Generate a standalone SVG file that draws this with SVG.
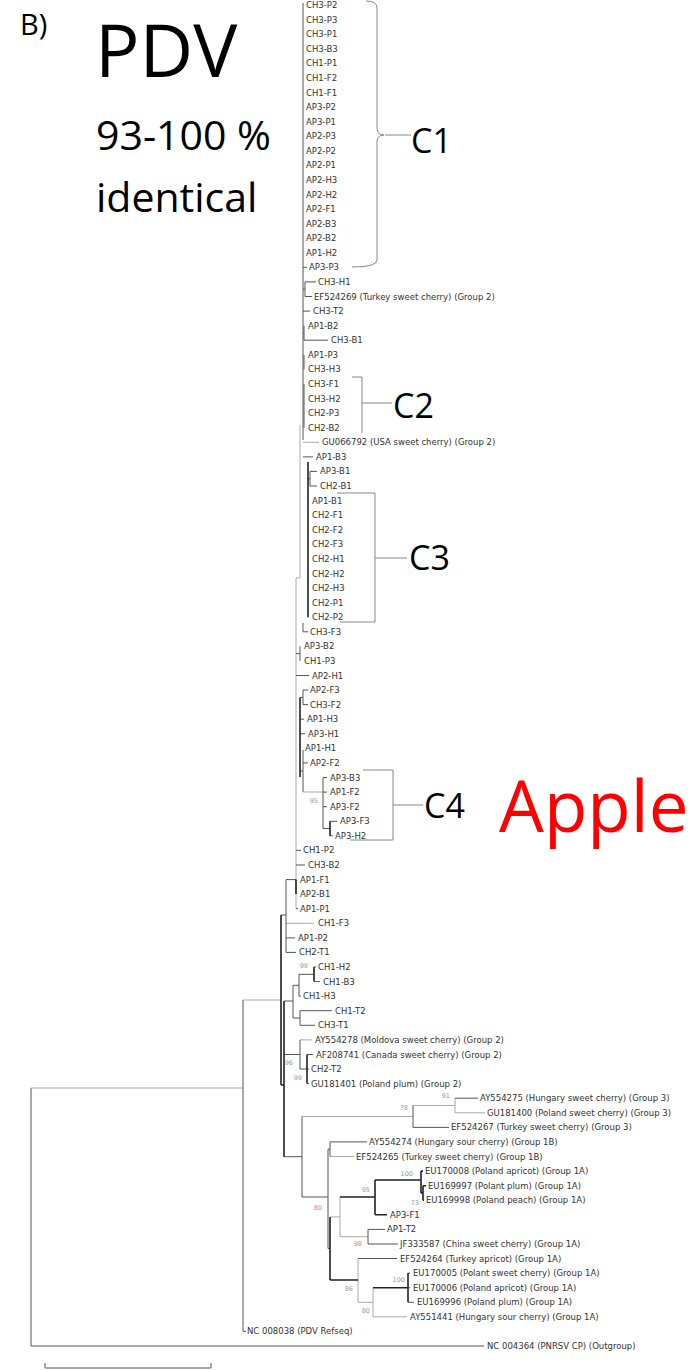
<svg xmlns="http://www.w3.org/2000/svg" width="696" height="1371" viewBox="0 0 696 1371">
<style>
.lf{font-family:"DejaVu Sans",sans-serif;font-size:8.5px;fill:#333}
.bs{font-family:"DejaVu Sans",sans-serif;font-size:6.5px;fill:#999;text-anchor:end}
.big{font-family:"Open Sans",sans-serif;fill:#000}
.t{stroke:#555;stroke-width:1;fill:none}
.tk{stroke:#222;stroke-width:1.6;fill:none}
.lt{stroke:#aaa;stroke-width:1;fill:none}
.br{stroke:#888;stroke-width:1;fill:none}
</style>
<rect width="696" height="1371" fill="#fff"/>
<g id="titles">
<text class="big" x="20" y="35" font-size="29">B)</text>
<text class="big" x="95" y="77" font-size="74">PDV</text>
<text class="big" x="96" y="150" font-size="41">93-100 %</text>
<text class="big" x="96" y="212" font-size="41">identical</text>
<text class="big" x="499" y="832" font-size="71" fill="#ff0000" style="fill:#ff0000">Apple</text>
</g>
<g id="clusters">
<g id="C1"><path class="br" d="M366 1 Q377 1 377 8 V128 Q377 135 384 135 Q377 135 377 142 V260 Q377 267 352 267 M385 135 H411"/><text class="big" x="411" y="153" font-size="34">C1</text></g>
<g id="C2"><path class="br" d="M352 377 H362 V433 M362 403 H392"/><text class="big" x="393" y="418" font-size="34">C2</text></g>
<g id="C3"><path class="br" d="M337 493 H375 V622 H340 M375 558 H407"/><text class="big" x="409" y="570" font-size="34">C3</text></g>
<g id="C4"><path class="br" d="M363 770 H393 V840 H350 M393 805 H423"/><text class="big" x="424" y="818" font-size="34">C4</text></g>
</g>
<g id="connectors">
<path class="lt" d="M303 442.3 H319 M300 425 V578 M296 578 H300 M296 578 V908.7 M303 792 H323 M286 923.3 H314 M300 1039.9 H312 M302 1116.5 H413 M413 1105.5 H455 M455 1098.2 V1112.8 M455 1112.8 H485 M330 1156.5 H354 M340 1197 V1236.7 M340 1236.7 H368 M330 1216.9 H340 M358 1258.5 V1302.3 M358 1302.3 H373 M373 1287.7 V1316.8 M373 1316.8 H407 M31 1088 H243 M243 1000 H281"/>
<path class="t" d="M303 3 V440 M303 267.4 H307 M303 289.2 H305 M305 281.9 V296.5 M305 281.9 H316 M305 296.5 H312 M303 311.1 H310 M303 333 H304 M304 325.7 V340.2 H328 M304 354.8 V369.4 M304 384 V427.7 M303 456.9 H313 M310 471.4 V486 M310 471.4 H317 M310 486 H317 M308 478.7 H310 M303 623 V631.8 H308 M300 646.3 V660.9 M296 653.6 H300 M296 675.5 H309 M303 690.1 V704.6 M303 690.1 H308 M303 704.6 H308 M300 697.4 H303 M300 719.2 H304 M300 733.8 H305 M300 771 H303 M303 750 V792 M303 762.9 H308 M323 777.5 V828.5 M323 777.5 H327 M323 792.1 H327 M323 806.7 H327 M323 828.5 H330 M330 821.3 H337 M330 835.8 H333 M296 850.4 H301 M296 865 H305 M296 908.7 H298 M286 879.6 V952.4 M281 915 H286 M286 937.9 H295 M286 952.4 H296 M286 879.6 H296 M314 967 H316 M314 981.6 H320 M299 974.3 H314 M299 974.3 V996.2 H301 M293 985.3 V1018 M293 985.3 H299 M293 1018 H300 M300 1010.7 V1025.3 M300 1010.7 H332 M300 1025.3 H315 M284 1001 H293 M300 1039.9 V1069 M284 1054.5 H300 M300 1069 H307 M307 1054.5 H313 M307 1069 H309 M307 1083.6 H309 M284 1156.7 H302 M302 1116.5 V1197 M413 1105.5 V1127.4 M413 1127.4 H449 M455 1098.2 H478 M302 1197 H328 M328 1149.2 V1248.5 M328 1149.2 H330 M330 1141.9 V1156.5 M330 1141.9 H367 M328 1248.5 H330 M368 1229.4 V1244 M368 1229.4 H385 M368 1244 H398 M358 1258.5 H397 M408 1273.1 H410 M408 1287.7 H410 M408 1302.3 H414 M243 1000 V1331.4 H246 M31 1088 V1346 H484 M45 1363 V1368 H211 V1363"/>
<path class="tk" d="M308 462 V617.2 M300 697.4 V777 M330 821.3 V835.8 M296 879.6 V894.1 M281 915 V1085 M281 1085 H284 M284 1001 V1156.7 M314 967 V981.6 M307 1054.5 V1083.6 M330 1216.9 V1280 M330 1280 H358 M340 1197 H375 M375 1180 V1214.8 M375 1214.8 H387 M375 1180 H421 M421 1171.1 V1192.9 M421 1171.1 H423 M421 1192.9 H423 M423 1185.7 V1200.2 M423 1185.7 H426 M423 1200.2 H424 M373 1287.7 H408 M408 1273.1 V1302.3"/>
</g>
<g id="bootstrap">
<text class="bs" x="318" y="803">95</text>
<text class="bs" x="308" y="968">99</text>
<text class="bs" x="293" y="1065">96</text>
<text class="bs" x="302" y="1080">99</text>
<text class="bs" x="450" y="1098">91</text>
<text class="bs" x="408" y="1110">78</text>
<text class="bs" x="413" y="1176">100</text>
<text class="bs" x="370" y="1192">95</text>
<text class="bs" x="419" y="1205">73</text>
<text class="bs" x="322" y="1210">80</text>
<text class="bs" x="362" y="1246">98</text>
<text class="bs" x="405" y="1282">100</text>
<text class="bs" x="353" y="1291">86</text>
<text class="bs" x="370" y="1313">80</text>
</g>
<g id="leaves">
<g id="n0"><text class="lf" x="306" y="8">CH3-P2</text></g>
<g id="n1"><text class="lf" x="306" y="22.6">CH3-P3</text></g>
<g id="n2"><text class="lf" x="306" y="37.2">CH3-P1</text></g>
<g id="n3"><text class="lf" x="306" y="51.7">CH3-B3</text></g>
<g id="n4"><text class="lf" x="306" y="66.3">CH1-P1</text></g>
<g id="n5"><text class="lf" x="306" y="80.9">CH1-F2</text></g>
<g id="n6"><text class="lf" x="306" y="95.5">CH1-F1</text></g>
<g id="n7"><text class="lf" x="306" y="110">AP3-P2</text></g>
<g id="n8"><text class="lf" x="306" y="124.6">AP3-P1</text></g>
<g id="n9"><text class="lf" x="306" y="139.2">AP2-P3</text></g>
<g id="n10"><text class="lf" x="306" y="153.8">AP2-P2</text></g>
<g id="n11"><text class="lf" x="306" y="168.3">AP2-P1</text></g>
<g id="n12"><text class="lf" x="306" y="182.9">AP2-H3</text></g>
<g id="n13"><text class="lf" x="306" y="197.5">AP2-H2</text></g>
<g id="n14"><text class="lf" x="306" y="212.1">AP2-F1</text></g>
<g id="n15"><text class="lf" x="306" y="226.6">AP2-B3</text></g>
<g id="n16"><text class="lf" x="306" y="241.2">AP2-B2</text></g>
<g id="n17"><text class="lf" x="306" y="255.8">AP1-H2</text></g>
<g id="n18"><text class="lf" x="309" y="270.4">AP3-P3</text></g>
<g id="n19"><text class="lf" x="318" y="284.9">CH3-H1</text></g>
<g id="n20"><text class="lf" x="314" y="299.5">EF524269 (Turkey sweet cherry) (Group 2)</text></g>
<g id="n21"><text class="lf" x="313" y="314.1">CH3-T2</text></g>
<g id="n22"><text class="lf" x="308" y="328.7">AP1-B2</text></g>
<g id="n23"><text class="lf" x="331" y="343.2">CH3-B1</text></g>
<g id="n24"><text class="lf" x="308" y="357.8">AP1-P3</text></g>
<g id="n25"><text class="lf" x="308" y="372.4">CH3-H3</text></g>
<g id="n26"><text class="lf" x="308" y="387">CH3-F1</text></g>
<g id="n27"><text class="lf" x="308" y="401.6">CH3-H2</text></g>
<g id="n28"><text class="lf" x="308" y="416.1">CH2-P3</text></g>
<g id="n29"><text class="lf" x="308" y="430.7">CH2-B2</text></g>
<g id="n30"><text class="lf" x="322" y="445.3">GU066792 (USA sweet cherry) (Group 2)</text></g>
<g id="n31"><text class="lf" x="316" y="459.9">AP1-B3</text></g>
<g id="n32"><text class="lf" x="320" y="474.4">AP3-B1</text></g>
<g id="n33"><text class="lf" x="320" y="489">CH2-B1</text></g>
<g id="n34"><text class="lf" x="312" y="503.6">AP1-B1</text></g>
<g id="n35"><text class="lf" x="312" y="518.2">CH2-F1</text></g>
<g id="n36"><text class="lf" x="312" y="532.7">CH2-F2</text></g>
<g id="n37"><text class="lf" x="312" y="547.3">CH2-F3</text></g>
<g id="n38"><text class="lf" x="312" y="561.9">CH2-H1</text></g>
<g id="n39"><text class="lf" x="312" y="576.5">CH2-H2</text></g>
<g id="n40"><text class="lf" x="312" y="591">CH2-H3</text></g>
<g id="n41"><text class="lf" x="312" y="605.6">CH2-P1</text></g>
<g id="n42"><text class="lf" x="312" y="620.2">CH2-P2</text></g>
<g id="n43"><text class="lf" x="310" y="634.8">CH3-F3</text></g>
<g id="n44"><text class="lf" x="304" y="649.3">AP3-B2</text></g>
<g id="n45"><text class="lf" x="304" y="663.9">CH1-P3</text></g>
<g id="n46"><text class="lf" x="312" y="678.5">AP2-H1</text></g>
<g id="n47"><text class="lf" x="310" y="693.1">AP2-F3</text></g>
<g id="n48"><text class="lf" x="310" y="707.6">CH3-F2</text></g>
<g id="n49"><text class="lf" x="307" y="722.2">AP1-H3</text></g>
<g id="n50"><text class="lf" x="308" y="736.8">AP3-H1</text></g>
<g id="n51"><text class="lf" x="305" y="751.4">AP1-H1</text></g>
<g id="n52"><text class="lf" x="310" y="765.9">AP2-F2</text></g>
<g id="n53"><text class="lf" x="330" y="780.5">AP3-B3</text></g>
<g id="n54"><text class="lf" x="330" y="795.1">AP1-F2</text></g>
<g id="n55"><text class="lf" x="330" y="809.7">AP3-F2</text></g>
<g id="n56"><text class="lf" x="340" y="824.3">AP3-F3</text></g>
<g id="n57"><text class="lf" x="335" y="838.8">AP3-H2</text></g>
<g id="n58"><text class="lf" x="303" y="853.4">CH1-P2</text></g>
<g id="n59"><text class="lf" x="308" y="868">CH3-B2</text></g>
<g id="n60"><text class="lf" x="300" y="882.6">AP1-F1</text></g>
<g id="n61"><text class="lf" x="300" y="897.1">AP2-B1</text></g>
<g id="n62"><text class="lf" x="300" y="911.7">AP1-P1</text></g>
<g id="n63"><text class="lf" x="318" y="926.3">CH1-F3</text></g>
<g id="n64"><text class="lf" x="298" y="940.9">AP1-P2</text></g>
<g id="n65"><text class="lf" x="299" y="955.4">CH2-T1</text></g>
<g id="n66"><text class="lf" x="318" y="970">CH1-H2</text></g>
<g id="n67"><text class="lf" x="323" y="984.6">CH1-B3</text></g>
<g id="n68"><text class="lf" x="303" y="999.2">CH1-H3</text></g>
<g id="n69"><text class="lf" x="335" y="1013.7">CH1-T2</text></g>
<g id="n70"><text class="lf" x="318" y="1028.3">CH3-T1</text></g>
<g id="n71"><text class="lf" x="315" y="1042.9">AY554278 (Moldova sweet cherry) (Group 2)</text></g>
<g id="n72"><text class="lf" x="316" y="1057.5">AF208741 (Canada sweet cherry) (Group 2)</text></g>
<g id="n73"><text class="lf" x="311" y="1072">CH2-T2</text></g>
<g id="n74"><text class="lf" x="311" y="1086.6">GU181401 (Poland plum) (Group 2)</text></g>
<g id="n75"><text class="lf" x="480" y="1101.2">AY554275 (Hungary sweet cherry) (Group 3)</text></g>
<g id="n76"><text class="lf" x="487" y="1115.8">GU181400 (Poland sweet cherry) (Group 3)</text></g>
<g id="n77"><text class="lf" x="451" y="1130.4">EF524267 (Turkey sweet cherry) (Group 3)</text></g>
<g id="n78"><text class="lf" x="369" y="1144.9">AY554274 (Hungary sour cherry) (Group 1B)</text></g>
<g id="n79"><text class="lf" x="356" y="1159.5">EF524265 (Turkey sweet cherry) (Group 1B)</text></g>
<g id="n80"><text class="lf" x="425" y="1174.1">EU170008 (Poland apricot) (Group 1A)</text></g>
<g id="n81"><text class="lf" x="428" y="1188.7">EU169997 (Polant plum) (Group 1A)</text></g>
<g id="n82"><text class="lf" x="426" y="1203.2">EU169998 (Poland peach) (Group 1A)</text></g>
<g id="n83"><text class="lf" x="390" y="1217.8">AP3-F1</text></g>
<g id="n84"><text class="lf" x="387" y="1232.4">AP1-T2</text></g>
<g id="n85"><text class="lf" x="400" y="1247">JF333587 (China sweet cherry) (Group 1A)</text></g>
<g id="n86"><text class="lf" x="400" y="1261.5">EF524264 (Turkey apricot) (Group 1A)</text></g>
<g id="n87"><text class="lf" x="413" y="1276.1">EU170005 (Polant sweet cherry) (Group 1A)</text></g>
<g id="n88"><text class="lf" x="413" y="1290.7">EU170006 (Poland apricot) (Group 1A)</text></g>
<g id="n89"><text class="lf" x="417" y="1305.3">EU169996 (Poland plum) (Group 1A)</text></g>
<g id="n90"><text class="lf" x="410" y="1319.8">AY551441 (Hungary sour cherry) (Group 1A)</text></g>
<g id="n91"><text class="lf" x="247" y="1334.4">NC 008038 (PDV Refseq)</text></g>
<g id="n92"><text class="lf" x="487" y="1349">NC 004364 (PNRSV CP) (Outgroup)</text></g>
</g>
</svg>
